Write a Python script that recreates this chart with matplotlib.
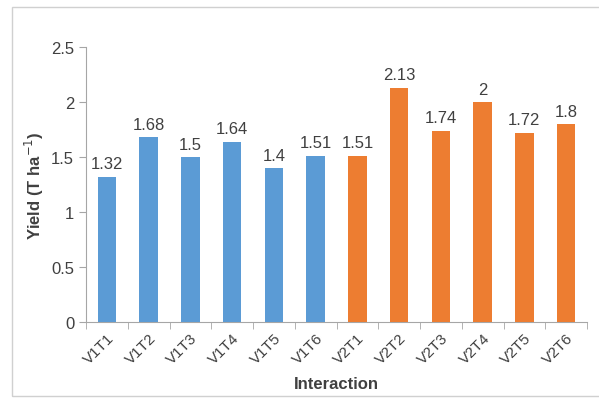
import numpy as np
import matplotlib.pyplot as plt
from matplotlib.patches import Rectangle
from matplotlib.ticker import FuncFormatter

categories = ["V1T1", "V1T2", "V1T3", "V1T4", "V1T5", "V1T6",
              "V2T1", "V2T2", "V2T3", "V2T4", "V2T5", "V2T6"]
yields = [1.32, 1.68, 1.5, 1.64, 1.4, 1.51,
          1.51, 2.13, 1.74, 2.0, 1.72, 1.8]
variety = [1, 1, 1, 1, 1, 1, 2, 2, 2, 2, 2, 2]

blue = "#5B9BD5"
orange = "#ED7D31"
axis_grey = "#A6A6A6"
text_grey = "#404040"

plt.rcParams['font.family'] = ['Liberation Sans', 'DejaVu Sans']

fig = plt.figure(figsize=(5.99, 4.02), dpi=100)
fig.patch.set_facecolor("white")

# thin frame like the Excel chart area
fig.patches.append(Rectangle((12 / 599, 5 / 402), 1.2, 1 - 13 / 402,
                             transform=fig.transFigure, fill=False,
                             edgecolor="#D0D0D0", linewidth=1))

ax = fig.add_axes([0.1436, 0.1965, 0.98 - 0.1436, 0.8806 - 0.1965])

x = np.arange(len(categories))
colors = [blue if v == 1 else orange for v in variety]
bars = ax.bar(x, yields, width=0.44, color=colors, zorder=3)

for xi, val in zip(x, yields):
    ax.text(xi, val + 0.05, f"{val:g}", ha="center", va="bottom",
            fontsize=12, color=text_grey)

ax.set_xlim(-0.5, len(categories) - 0.5)
ax.set_ylim(0, 2.5)
ax.set_yticks(np.arange(0, 2.51, 0.5))
ax.yaxis.set_major_formatter(FuncFormatter(lambda v, p: f"{v:g}"))

ax.set_xticks(x)
ax.set_xticklabels(categories, rotation=45, ha="right", rotation_mode="anchor",
                   fontsize=11, color=text_grey)
ax.set_xticks(np.arange(-0.5, len(categories), 1), minor=True)
ax.tick_params(axis="x", which="major", length=0, pad=6)
ax.tick_params(axis="x", which="minor", length=5, color=axis_grey, direction="out")
ax.tick_params(axis="y", length=5, color=axis_grey, labelsize=12, labelcolor=text_grey)

for side in ["top", "right"]:
    ax.spines[side].set_visible(False)
ax.spines["left"].set_color(axis_grey)
ax.spines["bottom"].set_color(axis_grey)

ax.set_ylabel("Yield (T ha$^{-1}$)", fontsize=12, fontweight="bold", color=text_grey)
ax.set_xlabel("Interaction", fontsize=12, fontweight="bold", color=text_grey)
ax.xaxis.set_label_coords(0.5, -0.195)

plt.savefig("out.png", dpi=100)
